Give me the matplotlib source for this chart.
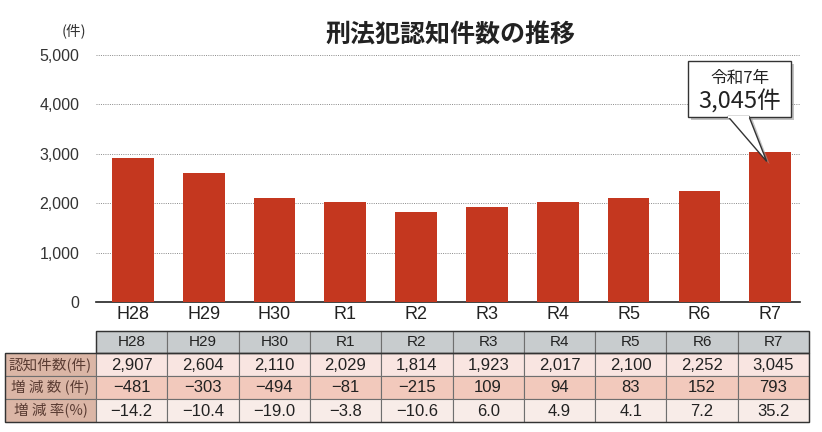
import matplotlib
matplotlib.use("Agg")
import matplotlib.pyplot as plt
from matplotlib.patches import Rectangle, Polygon

LATIN = ["Liberation Sans", "Noto Sans CJK JP", "DejaVu Sans"]
CJK = ["Noto Sans CJK JP", "DejaVu Sans"]
plt.rcParams["font.family"] = LATIN

years = ["H28", "H29", "H30", "R1", "R2", "R3", "R4", "R5", "R6", "R7"]
counts = [2907, 2604, 2110, 2029, 1814, 1923, 2017, 2100, 2252, 3045]
changes = [-481, -303, -494, -81, -215, 109, 94, 83, 152, 793]
rates = [-14.2, -10.4, -19.0, -3.8, -10.6, 6.0, 4.9, 4.1, 7.2, 35.2]
row_labels = ["認知件数(件)", "増 減 数 (件)", "増 減 率(%)"]
yticks = [0, 1000, 2000, 3000, 4000, 5000]

W, H = 822, 432
fig = plt.figure(figsize=(W / 100, H / 100), dpi=100)
fig.patch.set_facecolor("white")

# bar chart area
ax = fig.add_axes([96 / W, 1 - 302 / H, (800 - 96) / W, (302 - 55) / H])
x = list(range(len(years)))
ax.bar(x, counts, width=0.59, color="#c4371f", zorder=3)
ax.set_xlim(-0.52, 9.42)
ax.set_ylim(0, 5000)
ax.set_yticks(yticks)
ax.set_yticklabels([f"{v:,}" for v in yticks], fontsize=11.5, color="#333333")
ax.set_xticks(x)
ax.set_xticklabels(years, fontsize=13, color="#222222")
ax.tick_params(axis="y", length=0, pad=12)
ax.tick_params(axis="x", length=0, pad=3)
for v in yticks[1:]:
    ax.axhline(v, color="#8a8a8a", lw=0.7, ls=(0, (1, 1.3)), zorder=1)
for s in ["top", "right", "left"]:
    ax.spines[s].set_visible(False)
ax.spines["bottom"].set_color("#222222")
ax.spines["bottom"].set_linewidth(1.2)
ax.set_facecolor("none")

# overlay axes in pixel coordinates for titles, callout and table
tax = fig.add_axes([0, 0, 1, 1])
tax.set_xlim(0, W)
tax.set_ylim(H, 0)
tax.axis("off")
tax.set_zorder(5)

tax.text(450, 35, "刑法犯認知件数の推移", fontsize=18, fontweight="bold",
         ha="center", va="center", color="#222222", family=CJK)
tax.text(74, 31, "(件)", fontsize=10.5, ha="center", va="center", color="#333333", family=CJK)

# callout for latest year
tip = tax.transData.inverted().transform(ax.transData.transform((9 - 0.05, counts[-1] - 200)))
shadow = Rectangle((691, 64), 103, 56, facecolor="#9a9a9a", edgecolor="none", alpha=0.6, zorder=6)
tax.add_patch(shadow)
pointer_shadow = Polygon([(731, 118), (752, 118), (tip[0] + 3, tip[1] + 3)],
                         closed=True, facecolor="#9a9a9a", edgecolor="none", alpha=0.6, zorder=6)
tax.add_patch(pointer_shadow)
box = Rectangle((688, 61), 103, 56, facecolor="white", edgecolor="#333333", lw=1.0, zorder=7)
tax.add_patch(box)
pointer = Polygon([(728, 116.5), (749, 116.5), (tip[0], tip[1])],
                  closed=True, facecolor="white", edgecolor="#333333", lw=1.0, zorder=8)
tax.add_patch(pointer)
tax.plot([729, 748], [116.5, 116.5], color="white", lw=1.6, zorder=9)
tax.text(739.5, 78, "令和7年", fontsize=12, ha="center", va="center", color="#222222",
         zorder=10, family=CJK)
tax.text(739.5, 102, f"{counts[-1]:,}件", fontsize=17, ha="center", va="center",
         color="#222222", zorder=10, family=CJK)

# data table
left, lab_w, col_w = 5, 91, 71.3
tops = [331, 353, 376, 399, 422]
row_bg = ["#f9e5e1", "#f2c9bc", "#f8ece8"]
label_bg = "#dbb6a6"
header_bg = "#c8ccce"
border = "#6f6f6f"

rows = [
    [f"{v:,}" for v in counts],
    [f"{v}".replace("-", "−") for v in changes],
    [f"{v:.1f}".replace("-", "−") for v in rates],
]

x0 = left + lab_w
for j, yr in enumerate(years):
    cx = x0 + j * col_w
    tax.add_patch(Rectangle((cx, tops[0]), col_w, tops[1] - tops[0], facecolor=header_bg,
                            edgecolor=border, lw=0.8))
    tax.text(cx + col_w / 2, (tops[0] + tops[1]) / 2 + 0.5, yr, fontsize=11, ha="center",
             va="center", color="#222222")

for i, lab in enumerate(row_labels):
    y0, y1 = tops[i + 1], tops[i + 2]
    tax.add_patch(Rectangle((left, y0), lab_w, y1 - y0, facecolor=label_bg,
                            edgecolor=border, lw=0.8))
    tax.text(left + lab_w / 2, (y0 + y1) / 2, lab, fontsize=10.5, ha="center", va="center",
             color="#5a3c33", family=CJK)
    for j, val in enumerate(rows[i]):
        cx = x0 + j * col_w
        tax.add_patch(Rectangle((cx, y0), col_w, y1 - y0, facecolor=row_bg[i],
                                edgecolor=border, lw=0.8))
        tax.text(cx + col_w / 2, (y0 + y1) / 2 + 0.5, val, fontsize=12, ha="center",
                 va="center", color="#222222")

# outer frame
tax.add_patch(Rectangle((x0, tops[0]), col_w * len(years), tops[1] - tops[0],
                        facecolor="none", edgecolor="#333333", lw=1.0))
tax.add_patch(Rectangle((left, tops[1]), lab_w + col_w * len(years), tops[-1] - tops[1],
                        facecolor="none", edgecolor="#333333", lw=1.0))

fig.savefig("out.png", dpi=100)
